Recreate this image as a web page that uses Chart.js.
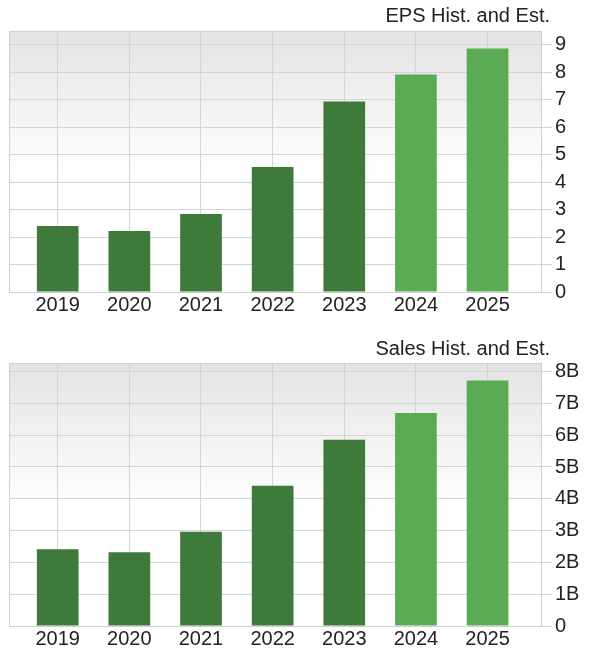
<!DOCTYPE html>
<html>
<head>
<meta charset="utf-8">
<script src="https://cdn.jsdelivr.net/npm/chart.js@4.4.0/dist/chart.umd.min.js"></script>
<style>
  body { margin: 0; background: #fff; }
  .box { position: absolute; left: 0; width: 607px; }
</style>
</head>
<body>
<div class="box" style="top:0;height:325px"><canvas id="epsChart"></canvas></div>
<div class="box" style="top:325px;height:333px"><canvas id="salesChart"></canvas></div>
<script>
// data
const years = ["2019", "2020", "2021", "2022", "2023", "2024", "2025"];
const isEstimate = [false, false, false, false, false, true, true];
const epsValues = [2.40, 2.22, 2.84, 4.55, 6.93, 7.92, 8.86];
const salesValues = [2.41e9, 2.32e9, 2.96e9, 4.41e9, 5.86e9, 6.70e9, 7.72e9];
const epsTicks = [0, 1, 2, 3, 4, 5, 6, 7, 8, 9];
const salesTicks = [0, 1e9, 2e9, 3e9, 4e9, 5e9, 6e9, 7e9, 8e9];
const salesTickLabels = ["0", "1B", "2B", "3B", "4B", "5B", "6B", "7B", "8B"];

const histColor = "#3e7a3a";
const estColor = "#5bab54";
const gridColor = "#d4d4d4";

Chart.defaults.font.family = '"Liberation Sans", Arial, sans-serif';
Chart.defaults.font.size = 20;
Chart.defaults.color = "#222";

// gradient plot background + frame
const plotFrame = {
  id: "plotFrame",
  beforeDraw(chart) {
    const { ctx, chartArea: a } = chart;
    const g = ctx.createLinearGradient(0, a.top, 0, a.bottom);
    g.addColorStop(0, "#e3e3e3");
    g.addColorStop(0.55, "#ffffff");
    g.addColorStop(1, "#ffffff");
    ctx.save();
    ctx.fillStyle = g;
    ctx.fillRect(a.left, a.top, a.right - a.left, a.bottom - a.top);
    ctx.restore();
  },
  beforeDatasetsDraw(chart) {
    const { ctx, chartArea: a } = chart;
    ctx.save();
    ctx.strokeStyle = "#cfcfcf";
    ctx.lineWidth = 1;
    ctx.strokeRect(a.left + 0.5, a.top + 0.5, a.right - a.left - 1, a.bottom - a.top);
    ctx.restore();
  }
};

// right aligned title above the plot
const cornerTitle = {
  id: "cornerTitle",
  afterDraw(chart, args, opts) {
    const { ctx, chartArea: a } = chart;
    ctx.save();
    ctx.font = '20px "Liberation Sans", Arial, sans-serif';
    ctx.fillStyle = "#222";
    ctx.textAlign = "right";
    ctx.textBaseline = "middle";
    ctx.fillText(opts.text, a.right + 8, opts.y);
    ctx.restore();
  }
};

function makeChart(id, values, yMax, yTicks, yLabel, titleText, titleY, padTop, xHeight) {
  const points = years.map((y, i) => ({ x: i, y: values[i] }));
  return new Chart(document.getElementById(id), {
    type: "bar",
    data: {
      datasets: [{
        data: points,
        backgroundColor: isEstimate.map(e => (e ? estColor : histColor)),
        borderWidth: 0,
        barPercentage: 0.582,
        categoryPercentage: 1
      }]
    },
    options: {
      responsive: true,
      maintainAspectRatio: false,
      animation: false,
      layout: { padding: { left: 9, top: padTop, right: 0, bottom: 0 } },
      plugins: {
        legend: { display: false },
        tooltip: { enabled: false },
        cornerTitle: { text: titleText, y: titleY }
      },
      scales: {
        x: {
          type: "linear",
          offset: false,
          min: -0.68,
          max: 6.76,
          afterBuildTicks: s => { s.ticks = years.map((y, i) => ({ value: i })); },
          afterFit: s => { s.height = xHeight; },
          grid: { color: gridColor, drawTicks: false, offset: false },
          border: { display: false },
          ticks: {
            padding: 1,
            maxRotation: 0,
            autoSkip: false,
            callback: v => years[v]
          }
        },
        y: {
          position: "right",
          min: 0,
          max: yMax,
          afterBuildTicks: s => { s.ticks = yTicks.map(v => ({ value: v })); },
          afterFit: s => { s.width = 65; },
          grid: { color: gridColor, tickLength: 10 },
          border: { display: false },
          ticks: {
            padding: 3,
            callback: (v, i) => yLabel(i)
          }
        }
      }
    },
    plugins: [plotFrame, cornerTitle]
  });
}

makeChart("epsChart", epsValues, 9.5, epsTicks, i => String(epsTicks[i]),
  "EPS Hist. and Est.", 16, 31, 33);
makeChart("salesChart", salesValues, 8.27e9, salesTicks, i => salesTickLabels[i],
  "Sales Hist. and Est.", 24, 38, 32);
</script>
</body>
</html>
